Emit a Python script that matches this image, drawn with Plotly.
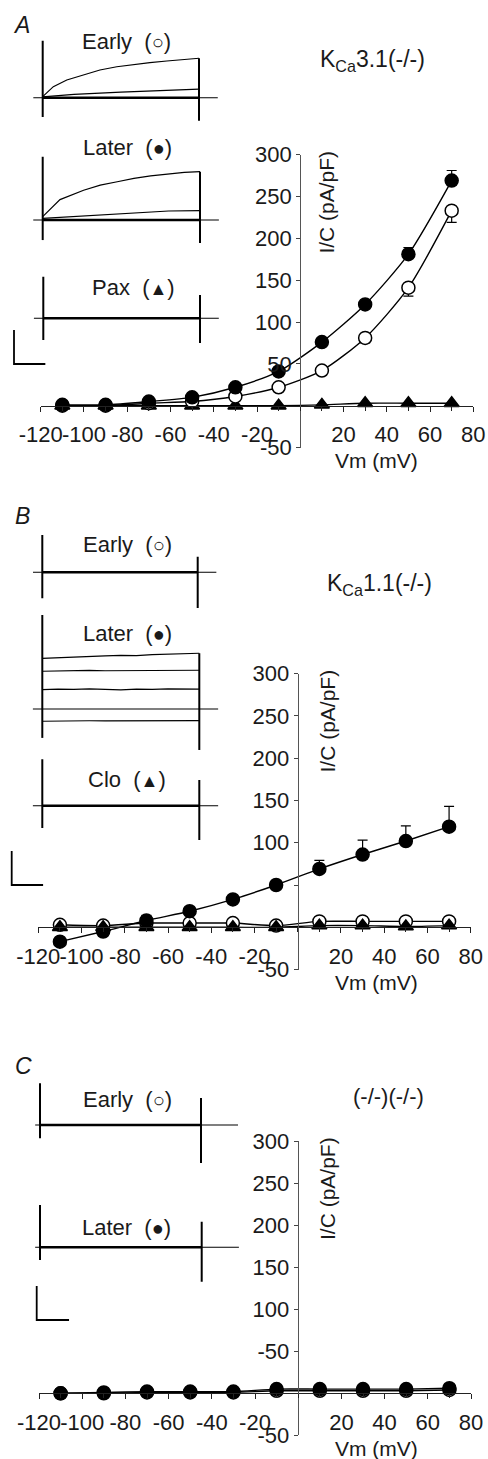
import plotly.graph_objects as go

W, H = 488, 1459
FONT = "Liberation Sans, Arial, Helvetica, sans-serif"
FS = 21
TFS = 22
LFS = 22
INK = "#1a1a1a"

# ---------------- I-V data (Vm in mV, I/C in pA/pF) ----------------
VM = [-110, -90, -70, -50, -30, -10, 10, 30, 50, 70]

A_EARLY = [0, 0, 3, 5, 11, 22, 42, 81, 141, 233]
A_EARLY_ERR = [0, 0, 1, 1, 4, 2, 4, 6, 10, 14]
A_LATER = [1, 1, 5, 10, 22, 41, 76, 121, 181, 269]
A_LATER_ERR = [1, 1, 1, 2, 2, 2, 3, 4, 8, 12]
A_PAX = [0, 0, 0, 0, 0, 0, 1, 3, 3, 3]

B_EARLY = [3, 2, 5, 5, 5, 2, 7, 7, 7, 7]
B_EARLY_ERR = [1, 1, 1, 1, 1, 1, 1, 1, 1, 1]
B_LATER = [-17, -5, 8, 19, 33, 50, 69, 86, 102, 119]
B_LATER_ERR = [2, 2, 6, 2, 2, 5, 10, 17, 18, 24]
B_CLO = [0, 0, 0, 0, 0, 0, 2, 2, 1, 2]

C_EARLY = [0, 0, 1, 1, 1, 3, 3, 3, 3, 4]
C_LATER = [0, 1, 2, 2, 2, 5, 5, 5, 5, 6]

X_TICKS = [-120, -100, -80, -60, -40, -20, 20, 40, 60, 80]
X_TEXT = ["-120", "-100", "-80", "-60", "-40", "-20", "20", "40", "60", "80"]
X_MINOR = [-110, -90, -70, -50, -30, -10, 0, 10, 30, 50, 70]
Y_TICKS = [300, 250, 200, 150, 100, 50, -50]
A_YTEXT = ["300", "250", "200", "150", "100", "50", "-50"]
B_YTEXT = ["300", "250", "200", "150", "100", "", "-50"]
C_YTEXT = ["300", "250", "200", "150", "100", "-50", "-50"]

# ---------------- example current traces (time in ms, current in nA) ----------------
PULSE_MS = 500
SCALE_MS = 100
SCALE_NA = 2

A1_BIG_T = [0, 34, 77, 130, 183, 237, 290, 343, 397, 450, 500]
A1_BIG_I = [0.06, 0.65, 1.04, 1.34, 1.63, 1.82, 1.96, 2.06, 2.16, 2.22, 2.32]
A1_SMALL_T = [0, 100, 250, 400, 500]
A1_SMALL_I = [0.05, 0.2, 0.33, 0.43, 0.51]
A1_ON = [3.35, -1.14]
A1_OFF = [2.32, -1.35]

A2_BIG_T = [0, 55, 130, 183, 237, 290, 343, 397, 450, 500]
A2_BIG_I = [0.2, 1.2, 1.75, 2.05, 2.25, 2.45, 2.6, 2.72, 2.8, 2.84]
A2_SMALL_T = [0, 150, 300, 400, 500]
A2_SMALL_I = [0.1, 0.25, 0.4, 0.53, 0.55]
A2_ON = [3.72, -1.18]
A2_OFF = [2.84, -1.35]

A3_ON = [2.45, -1.28]
A3_OFF = [1.37, -1.45]

B1_ON = [2.19, -1.53]
B1_OFF = [0.92, -2.1]

B2_T = [0, 50, 100, 150, 200, 250, 300, 350, 400, 450, 500]
B2_I1 = [2.98, 3.02, 3.08, 3.1, 3.12, 3.15, 3.14, 3.2, 3.22, 3.24, 3.28]
B2_I2 = [2.22, 2.24, 2.25, 2.27, 2.25, 2.26, 2.28, 2.25, 2.27, 2.28, 2.28]
B2_I3 = [1.14, 1.17, 1.15, 1.18, 1.16, 1.13, 1.17, 1.15, 1.18, 1.16, 1.17]
B2_I4 = [-0.72, -0.7, -0.7, -0.69, -0.7, -0.7, -0.7, -0.69, -0.7, -0.7, -0.68]
B2_ON = [5.53, -1.7]
B2_OFF = [3.28, -2.41]

B3_ON = [2.73, -1.31]
B3_OFF = [1.51, -2.02]

C1_ON = [2.45, -0.78]
C1_OFF = [1.59, -2.24]
C2_ON = [2.49, -0.75]
C2_OFF = [1.51, -2.02]

ZERO_T_AB = [-30, 560]
ZERO_T_C = [-15, 615]

# ---------------- helpers ----------------
def px(x):
    return x / W


def py(y):
    return 1 - y / H


fig = go.Figure()
layout = dict(
    width=W, height=H, margin=dict(l=0, r=0, t=0, b=0, pad=0, autoexpand=False),
    paper_bgcolor="white", plot_bgcolor="rgba(0,0,0,0)",
    showlegend=False, font=dict(family=FONT, size=FS, color=INK),
)
annotations = []


def axkey(prefix, n):
    return prefix if n == 1 else f"{prefix}{n}"


def ref(prefix, n):
    return prefix if n == 1 else f"{prefix}{n}"


# main I-V panels: geometry in pixels
MAIN = [
    dict(n=1, xl=40.7, xr=473.3, x0=300.2, y0=405.7, k=0.837, ytext=A_YTEXT),
    dict(n=2, xl=38.3, xr=470.7, x0=297.7, y0=927.3, k=0.846, ytext=B_YTEXT),
    dict(n=3, xl=39.0, xr=471.0, x0=297.7, y0=1393.3, k=0.841, ytext=C_YTEXT),
]

for g in MAIN:
    n = g["n"]
    y300 = g["y0"] - 300 * g["k"]
    ym50 = g["y0"] + 50 * g["k"]
    layout[axkey("xaxis", n)] = dict(
        domain=[px(g["xl"]), px(g["xr"])], range=[-120, 80], anchor="free",
        position=py(g["y0"]), tickvals=X_TICKS, ticktext=X_TEXT, ticks="outside", ticklen=5,
        tickwidth=1, tickcolor="#222", showline=True, linecolor="#222", linewidth=1,
        showgrid=False, zeroline=False, tickfont=dict(size=TFS, family=FONT, color=INK),
        minor=dict(tickvals=X_MINOR, ticks="outside", ticklen=4, tickcolor="#222", tickwidth=1),
        ticklabelstandoff=4, tickangle=0, automargin=False,
    )
    layout[axkey("yaxis", n)] = dict(
        domain=[py(ym50), py(y300)], range=[-50, 300], anchor="free",
        position=px(g["x0"]), tickvals=Y_TICKS, ticktext=g["ytext"], ticks="outside",
        ticklen=4, tickwidth=1, tickcolor="#444", showline=True, linecolor="#555",
        linewidth=1, showgrid=False, zeroline=False, automargin=False,
        tickfont=dict(size=TFS, family=FONT, color=INK),
    )
    annotations.append(dict(
        text="I/C (pA/pF)", textangle=-90, x=px(327), y=py(y300 + 48), xref="paper",
        yref="paper", showarrow=False, xanchor="center", yanchor="middle",
        font=dict(size=FS, family=FONT, color=INK)))
    annotations.append(dict(
        text="Vm (mV)", x=px(376), y=py(g["y0"] + 55), xref="paper", yref="paper",
        showarrow=False, xanchor="center", yanchor="middle",
        font=dict(size=FS, family=FONT, color=INK)))


def iv_trace(n, y, marker, err=None, err_up=True, fill="black"):
    kw = {}
    if err is not None:
        zeros = [0] * len(err)
        kw["error_y"] = dict(type="data", symmetric=False,
                             array=err if err_up else zeros,
                             arrayminus=zeros if err_up else err,
                             color="black", thickness=1.2, width=5)
    fig.add_trace(go.Scatter(
        x=VM, y=y, mode="lines+markers", xaxis=ref("x", n), yaxis=ref("y", n),
        line=dict(color="black", width=1.4, shape="spline", smoothing=0.7),
        marker=dict(symbol=marker, size=13, color=fill,
                    line=dict(color="black", width=1.5)),
        cliponaxis=False, **kw))


iv_trace(1, A_PAX, "triangle-up")
iv_trace(1, A_EARLY, "circle", A_EARLY_ERR, err_up=False, fill="white")
iv_trace(1, A_LATER, "circle", A_LATER_ERR, err_up=True)

iv_trace(2, B_EARLY, "circle", B_EARLY_ERR, err_up=True, fill="white")
iv_trace(2, B_CLO, "triangle-up")
iv_trace(2, B_LATER, "circle", B_LATER_ERR, err_up=True)

iv_trace(3, C_EARLY, "circle", fill="white")
iv_trace(3, C_LATER, "circle")

# ---------------- insets ----------------
PX_PER_NA = 17.0
INSETS = [
    dict(n=4, on=42.7, off=199.0, base=97.7),
    dict(n=5, on=42.7, off=200.0, base=220.0),
    dict(n=6, on=43.3, off=200.0, base=318.3),
    dict(n=7, on=42.3, off=197.7, base=572.3),
    dict(n=8, on=42.3, off=199.3, base=709.0),
    dict(n=9, on=42.3, off=199.3, base=805.7),
    dict(n=10, on=40.0, off=201.0, base=1125.0),
    dict(n=11, on=40.0, off=201.7, base=1247.3),
]
GEOM = {}
for g in INSETS:
    n = g["n"]
    ppm = (g["off"] - g["on"]) / PULSE_MS
    bx0, bx1 = 0.0, 245.0
    by0 = max(0.0, g["base"] - 105)
    by1 = min(H, g["base"] + 90)
    GEOM[n] = dict(ppm=ppm, on=g["on"], base=g["base"])
    layout[axkey("xaxis", n)] = dict(
        domain=[px(bx0), px(bx1)],
        range=[(bx0 - g["on"]) / ppm, (bx1 - g["on"]) / ppm],
        visible=False, anchor=ref("y", n), fixedrange=True, automargin=False)
    layout[axkey("yaxis", n)] = dict(
        domain=[py(by1), py(by0)],
        range=[(g["base"] - by1) / PX_PER_NA, (g["base"] - by0) / PX_PER_NA],
        visible=False, anchor=ref("x", n), fixedrange=True, automargin=False)


def line(n, t, i, w=1.2):
    fig.add_trace(go.Scatter(x=t, y=i, mode="lines", xaxis=ref("x", n), yaxis=ref("y", n),
                             line=dict(color="black", width=w), hoverinfo="skip"))


def sweep_frame(n, on, off, zero_t, thick=True):
    line(n, zero_t, [0, 0], 1.1)
    if thick:
        line(n, [0, PULSE_MS], [0, 0], 2.6)
    line(n, [0, 0], on, 2.0)
    line(n, [PULSE_MS, PULSE_MS], off, 2.0)


def scale_bar(n, corner_px):
    g = GEOM[n]
    t0 = (corner_px[0] - g["on"]) / g["ppm"]
    i0 = (g["base"] - corner_px[1]) / PX_PER_NA
    line(n, [t0, t0, t0 + SCALE_MS], [i0 + SCALE_NA, i0, i0], 1.8)


# A
sweep_frame(4, A1_ON, A1_OFF, ZERO_T_AB)
line(4, A1_BIG_T, A1_BIG_I)
line(4, A1_SMALL_T, A1_SMALL_I)
sweep_frame(5, A2_ON, A2_OFF, ZERO_T_AB)
line(5, A2_BIG_T, A2_BIG_I)
line(5, A2_SMALL_T, A2_SMALL_I)
sweep_frame(6, A3_ON, A3_OFF, ZERO_T_AB)
scale_bar(6, (14, 364))
# B
sweep_frame(7, B1_ON, B1_OFF, ZERO_T_AB)
sweep_frame(8, B2_ON, B2_OFF, ZERO_T_AB, thick=False)
for I in (B2_I1, B2_I2, B2_I3, B2_I4):
    line(8, B2_T, I)
sweep_frame(9, B3_ON, B3_OFF, ZERO_T_AB)
scale_bar(9, (11.7, 885))
# C
sweep_frame(10, C1_ON, C1_OFF, ZERO_T_C)
sweep_frame(11, C2_ON, C2_OFF, ZERO_T_C)
scale_bar(11, (36.7, 1320))

# ---------------- text ----------------
OPEN = '(<span style="font-size:20px">○</span>)'
FILLED = '(<span style="font-size:20px">●</span>)'
TRI = '(<span style="font-size:18px">▲</span>)'
LABELS = [
    ("Early  " + OPEN, 127, 42, LFS), ("Later  " + FILLED, 127.5, 147, LFS),
    ("Pax  " + TRI, 133, 287, LFS),
    ("Early  " + OPEN, 127.5, 545, LFS), ("Later  " + FILLED, 127.5, 633, LFS),
    ("Clo  " + TRI, 127, 779, LFS),
    ("Early  " + OPEN, 127.5, 1099, LFS), ("Later  " + FILLED, 127, 1227, LFS),
    ("K<sub>Ca</sub>3.1(-/-)", 372, 61, 23), ("K<sub>Ca</sub>1.1(-/-)", 379, 585, 23),
    ("(-/-)(-/-)", 388.5, 1096, 22),
]
for text, x, y, fs in LABELS:
    annotations.append(dict(text=text, x=px(x), y=py(y), xref="paper", yref="paper",
                            showarrow=False, xanchor="center", yanchor="middle",
                            font=dict(size=fs, family=FONT, color=INK)))
for letter, x, y in (("A", 21, 25), ("B", 22, 516), ("C", 23, 1066)):
    annotations.append(dict(text=f"<i>{letter}</i>", x=px(x), y=py(y), xref="paper",
                            yref="paper", showarrow=False, xanchor="center",
                            yanchor="middle", font=dict(size=23, family=FONT, color=INK)))

layout["annotations"] = annotations
fig.update_layout(**layout)
fig.write_html(
    "out.html",
    config={"displayModeBar": False, "staticPlot": True},
    post_script="document.body.style.margin='0px';document.body.style.overflow='hidden';",
)
